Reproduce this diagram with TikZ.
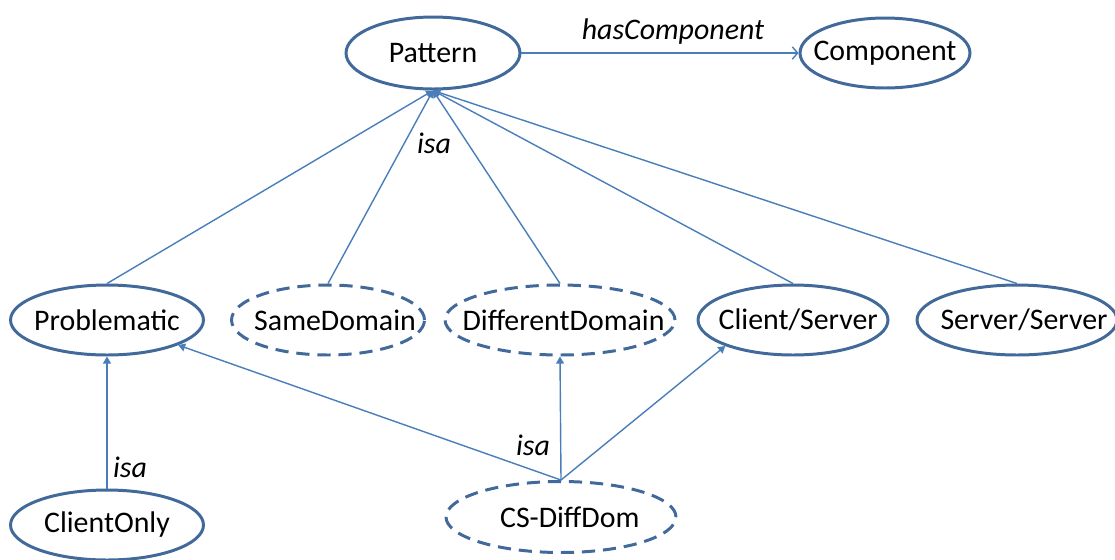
\documentclass[tikz,border=0pt]{standalone}
\usepackage{fontspec}
\setmainfont{Carlito}
\usetikzlibrary{arrows.meta,shapes.geometric}

\definecolor{rim}{HTML}{41699A}
\definecolor{link}{HTML}{4A7EBB}

\tikzset{
  concept/.style={ellipse,draw=rim,line width=1.7pt,inner sep=0pt,
    minimum height=1.4cm},
  virtual/.style={concept,dash pattern=on 7.5pt off 4.5pt},
  every label/.style={font=\fontsize{17}{20}\selectfont},
  isa/.style={draw=link,line width=0.8pt,-{Triangle[length=4pt,width=4.5pt]}},
  has/.style={draw=link,line width=0.8pt,-{Straight Barb[length=3pt,width=7pt]}},
  lbl/.style={font=\fontsize{17}{20}\selectfont\itshape}
}

\begin{document}
\begin{tikzpicture}[x=0.02cm,y=-0.02cm]
  \useasboundingbox (0,0) rectangle (1115,559);

  % top row
  \node[concept,minimum width=3.48cm,minimum height=1.44cm,label=center:Pattern] (pat) at (433,53) {};
  \node[concept,minimum width=3.4cm,label=center:Component] (comp) at (885,53) {};

  % middle row
  \node[concept,minimum width=3.86cm,label=center:Problematic] (prob) at (107,320) {};
  \node[virtual,minimum width=3.86cm,label={[xshift=4pt]center:SameDomain}] (same) at (328,320) {};
  \node[virtual,minimum width=4.6cm,label={[xshift=2pt]center:DifferentDomain}] (diff) at (560,320) {};
  \node[concept,minimum width=3.8cm,label={[xshift=3pt]center:Client/Server}] (cs) at (793,320) {};
  \node[concept,minimum width=4.0cm,label={[xshift=4pt]center:Server/Server}] (ss) at (1017,320) {};

  % bottom row
  \node[concept,minimum width=3.86cm,label=center:ClientOnly] (only) at (107,525) {};
  \node[virtual,minimum width=4.6cm,minimum height=1.42cm,label={[xshift=5pt]center:CS-DiffDom}] (csdd) at (561,517) {};

  % labels
  \node[lbl] (hasl) at (673,32) {hasComponent};
  \node[lbl] (isa1) at (434,143) {isa};
  \node[lbl] (isa2) at (533,445) {isa};
  \node[lbl] (isa3) at (130,467) {isa};

  \draw[has] (pat) -- (comp);

  \foreach \n in {prob,same,diff,cs,ss}
    \draw[isa] (\n.north) -- (pat.south);

  \draw[isa] (only.north) -- (prob.south);
  \draw[isa] (csdd.north) -- (prob);
  \draw[isa] (csdd.north) -- (diff.south);
  \draw[isa] (csdd.north) -- (cs.201);
\end{tikzpicture}
\end{document}
